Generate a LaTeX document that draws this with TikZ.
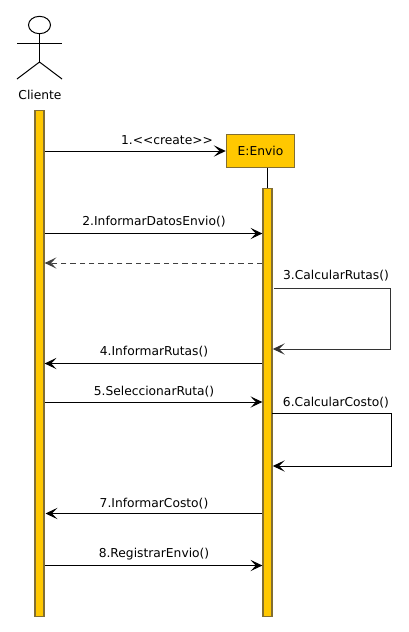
\documentclass[tikz,border=0pt]{standalone}
\usepackage{fontspec}
\setmainfont{DejaVu Sans}
\usetikzlibrary{arrows.meta,shapes.geometric}
\definecolor{barfill}{RGB}{255,200,0}
\definecolor{barline}{RGB}{130,110,50}
\tikzset{
  x=0.75pt,y=-0.75pt,
  lifebar/.style={draw=barline,fill=barfill,line width=1.1pt,rectangle,inner sep=0pt,minimum width=6.6pt,anchor=north},
  objbox/.style={draw=barline,fill=barfill,line width=1.1pt,rectangle,inner sep=0pt,minimum width=51pt,minimum height=25pt,text depth=0pt,font=\fontsize{9.2}{11}\selectfont},
  msg/.style={line width=0.75pt,-{Stealth[length=9pt,width=8.5pt,inset=4.2pt]}},
  reply/.style={line width=0.75pt,draw=black!75,dash pattern=on 4pt off 3pt,-{Stealth[length=9pt,width=8.5pt,inset=4.2pt,sep=0pt,line width=0pt]}},
  lbl/.style={inner sep=0pt,font=\fontsize{9.2}{11}\selectfont},
  stick/.style={line width=0.75pt,draw=black}
}
\begin{document}
\begin{tikzpicture}
\useasboundingbox[fill=white] (0,0) rectangle (408,632);
% actor
\node[ellipse,draw,line width=0.75pt,inner sep=0pt,minimum width=16.5pt,minimum height=13pt] (head) at (39.5,25) {};
\coordinate (hip) at (39.5,62);
\coordinate (armL) at (17,43);
\coordinate (armR) at (62,43);
\coordinate (legL) at (17,79);
\coordinate (legR) at (62,79);
\draw[stick] (head.south) -- (hip);
\draw[stick] (armL) -- (armR);
\draw[stick] (legL) -- (hip) -- (legR);
\node[lbl] (cliente) at (40,94.5) {Cliente};
% lifelines
\node[lifebar,minimum height=379.5pt] (barA) at (39.5,110) {};
\node[objbox] (envio) at (260.5,151) {E:Envio};
\node[lifebar,minimum height=321pt] (barB) at (267.5,188) {};
\draw[stick] (envio.south -| barB.north) -- (barB.north);
% message anchors
\coordinate (m1) at (0,151);
\coordinate (m2) at (0,233.5);
\coordinate (m3) at (0,263);
\coordinate (m4) at (0,363.5);
\coordinate (m5) at (0,402);
\coordinate (m7) at (0,513.5);
\coordinate (m8) at (0,565.5);
\draw[msg] (barA.east |- m1) -- (envio.west |- m1);
\node[lbl] (t1) at (167,140) {1.<{}<create>{}>};
\draw[msg] (barA.east |- m2) -- (barB.west |- m2);
\node[lbl] (t2) at (154,222) {2.InformarDatosEnvio()};
\draw[reply] (barB.west |- m3) -- (barA.east |- m3);
\coordinate (s3a) at (274,288);
\coordinate (s3b) at (390,288);
\coordinate (s3c) at (390,349);
\coordinate (s3d) at (272.8,349);
\draw[msg,draw=black!80] (s3a) -- (s3b) -- (s3c) -- (s3d);
\node[lbl] (t3) at (336,276) {3.CalcularRutas()};
\draw[msg] (barB.west |- m4) -- (barA.east |- m4);
\node[lbl] (t4) at (154,352) {4.InformarRutas()};
\draw[msg] (barA.east |- m5) -- (barB.west |- m5);
\node[lbl] (t5) at (154,391.5) {5.SeleccionarRuta()};
\coordinate (s6a) at (272,413);
\coordinate (s6b) at (391.5,413);
\coordinate (s6c) at (391.5,466);
\coordinate (s6d) at (272.8,466);
\draw[msg] (s6a) -- (s6b) -- (s6c) -- (s6d);
\node[lbl] (t6) at (336,403) {6.CalcularCosto()};
\coordinate (m7end) at (45.5,513.5);
\draw[msg] (barB.west |- m7) -- (m7end);
\node[lbl] (t7) at (154,503.5) {7.InformarCosto()};
\draw[msg] (barA.east |- m8) -- (barB.west |- m8);
\node[lbl] (t8) at (154,554.5) {8.RegistrarEnvio()};
\end{tikzpicture}
\end{document}
